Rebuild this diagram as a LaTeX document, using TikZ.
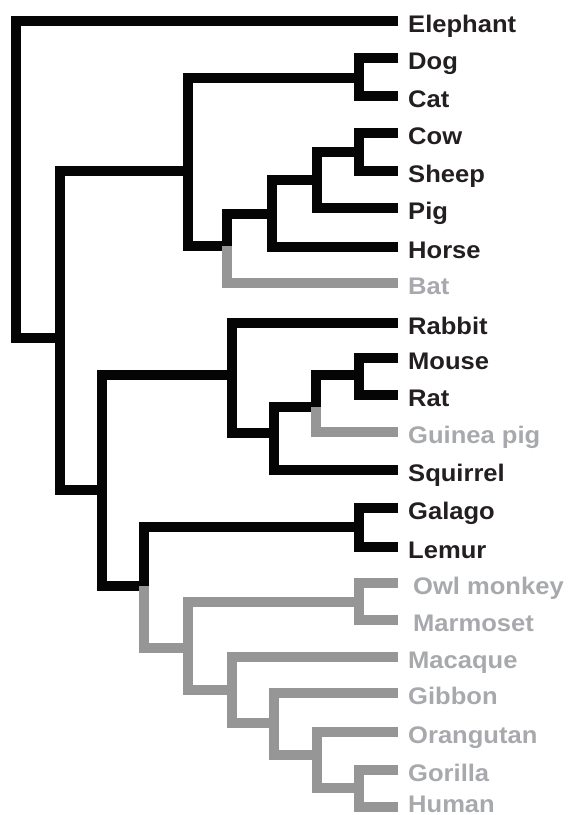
\documentclass[tikz,border=0pt]{standalone}
\usepackage{fontspec}
\newfontfamily\labfont{Liberation Sans}[FakeStretch=1.065]
\definecolor{lineblk}{RGB}{5,5,5}
\definecolor{linegry}{RGB}{150,150,150}
\definecolor{txtblk}{RGB}{35,31,32}
\definecolor{txtgry}{RGB}{167,169,172}
\begin{document}
\begin{tikzpicture}[x=1pt,y=-1pt,
  br/.style={line width=10pt,line join=miter,line cap=butt,draw=lineblk},
  brg/.style={br,draw=linegry},
  lab/.style={anchor=base west,inner sep=0pt,font=\labfont\bfseries\fontsize{24}{28}\selectfont,text=txtblk},
  labg/.style={lab,text=txtgry}]
\useasboundingbox (0,0) rectangle (569,815);

% leaf tips
\coordinate (tElephant) at (398,21);
\coordinate (tDog) at (398,58);
\coordinate (tCat) at (398,96);
\coordinate (tCow) at (398,133);
\coordinate (tSheep) at (398,171);
\coordinate (tPig) at (398,208);
\coordinate (tHorse) at (398,247);
\coordinate (tBat) at (398,283);
\coordinate (tRabbit) at (398,323);
\coordinate (tMouse) at (398,358);
\coordinate (tRat) at (398,395);
\coordinate (tGuinea) at (398,432);
\coordinate (tSquirrel) at (398,470);
\coordinate (tGalago) at (398,508);
\coordinate (tLemur) at (398,547);
\coordinate (tOwl) at (398,583);
\coordinate (tMarmoset) at (398,620);
\coordinate (tMacaque) at (398,657);
\coordinate (tGibbon) at (398,693);
\coordinate (tOrangutan) at (398,732);
\coordinate (tGorilla) at (398,770);
\coordinate (tHuman) at (398,807);

% labels
\node[lab] (Elephant) at (408,32) {Elephant};
\node[lab] (Dog) at (408,69) {Dog};
\node[lab] (Cat) at (408,107) {Cat};
\node[lab] (Cow) at (408,144) {Cow};
\node[lab] (Sheep) at (408,182) {Sheep};
\node[lab] (Pig) at (408,219) {Pig};
\node[lab] (Horse) at (408,258) {Horse};
\node[labg] (Bat) at (408,294) {Bat};
\node[lab] (Rabbit) at (408,334) {Rabbit};
\node[lab] (Mouse) at (408,369) {Mouse};
\node[lab] (Rat) at (408,406) {Rat};
\node[labg] (Guinea) at (408,443) {Guinea pig};
\node[lab] (Squirrel) at (408,481) {Squirrel};
\node[lab] (Galago) at (408,519) {Galago};
\node[lab] (Lemur) at (408,558) {Lemur};
\node[labg] (Owl) at (413,594) {Owl monkey};
\node[labg] (Marmoset) at (413,631) {Marmoset};
\node[labg] (Macaque) at (408,668) {Macaque};
\node[labg] (Gibbon) at (408,704) {Gibbon};
\node[labg] (Orangutan) at (408,743) {Orangutan};
\node[labg] (Gorilla) at (408,781) {Gorilla};
\node[labg] (Human) at (408,812) {Human};

% internal nodes (x of vertical, y where parent joins)
\coordinate (R) at (16,180);
\coordinate (A) at (60,338);
\coordinate (B) at (188,171);
\coordinate (DC) at (359,78);
\coordinate (C) at (227,246);
\coordinate (D) at (272,214);
\coordinate (E) at (317,180);
\coordinate (CS) at (359,152);
\coordinate (F) at (102,490);
\coordinate (G) at (232,375);
\coordinate (H) at (274,433);
\coordinate (I) at (316,407);
\coordinate (MR) at (359,375);
\coordinate (J) at (144,586);
\coordinate (GL) at (359,527);
\coordinate (K) at (188,648);
\coordinate (OM) at (359,602);
\coordinate (L) at (232,690);
\coordinate (M) at (274,723);
\coordinate (N) at (317,755);
\coordinate (GH) at (359,788);

% black branches
\draw[br] (tElephant) -| (R) |- (A);
\draw[br] (B) -| (A) |- (F);
\draw[br] (DC) -| (B) |- (C);
\draw[br] (tDog) -| (DC) |- (tCat);
\draw[br] (D) -| (C);
\draw[br] (E) -| (D) |- (tHorse);
\draw[br] (CS) -| (E) |- (tPig);
\draw[br] (tCow) -| (CS) |- (tSheep);
\draw[br] (G) -| (F) |- (J);
\draw[br] (tRabbit) -| (G) |- (H);
\draw[br] (I) -| (H) |- (tSquirrel);
\draw[br] (MR) -| (I);
\draw[br] (tMouse) -| (MR) |- (tRat);
\draw[br] (GL) -| (J);
\draw[br] (tGalago) -| (GL) |- (tLemur);

% grey branches
\draw[brg] (C) |- (tBat);
\draw[brg] (I) |- (tGuinea);
\draw[brg] (J) |- (K);
\draw[brg] (OM) -| (K) |- (L);
\draw[brg] (tOwl) -| (OM) |- (tMarmoset);
\draw[brg] (tMacaque) -| (L) |- (M);
\draw[brg] (tGibbon) -| (M) |- (N);
\draw[brg] (tOrangutan) -| (N) |- (GH);
\draw[brg] (tGorilla) -| (GH) |- (tHuman);
\end{tikzpicture}
\end{document}
